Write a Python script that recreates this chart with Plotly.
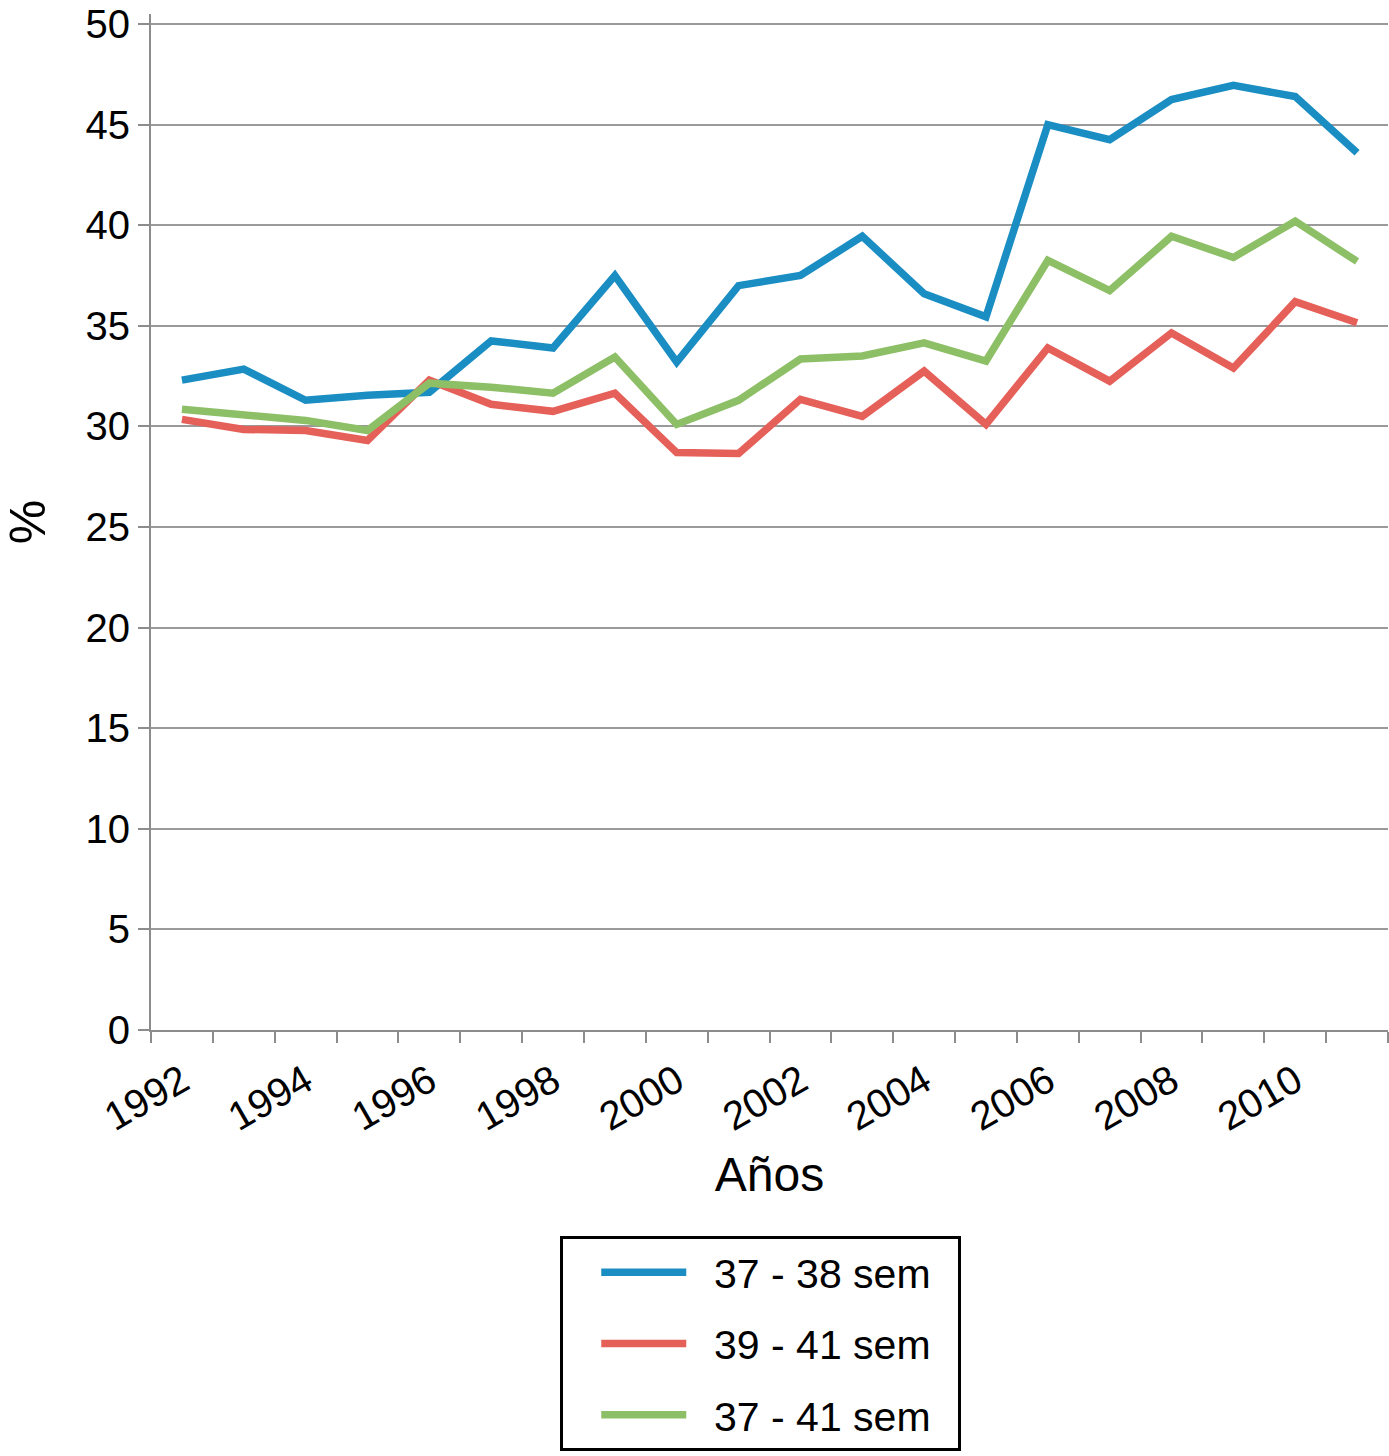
import plotly.graph_objects as go

years = list(range(1992, 2012))
s_37_38 = [32.3, 32.85, 31.3, 31.55, 31.7, 34.25, 33.9, 37.5, 33.2, 37.0,
           37.5, 39.45, 36.6, 35.45, 45.0, 44.25, 46.25, 46.95, 46.4, 43.6]
s_39_41 = [30.35, 29.85, 29.8, 29.3, 32.3, 31.1, 30.75, 31.65, 28.7, 28.65,
           31.35, 30.5, 32.75, 30.1, 33.9, 32.25, 34.65, 32.9, 36.2, 35.15]
s_37_41 = [30.85, 30.55, 30.3, 29.8, 32.15, 31.95, 31.65, 33.45, 30.1, 31.3,
           33.35, 33.5, 34.15, 33.25, 38.25, 36.75, 39.45, 38.4, 40.2, 38.2]
names = ["37 - 38 sem", "39 - 41 sem", "37 - 41 sem"]
colors = ["#1A8DC3", "#E6605A", "#8DBF66"]
label_years = list(range(1992, 2011, 2))
y_ticks = list(range(0, 51, 5))

font_family = "Liberation Sans, Arial, sans-serif"
pad = "\u00a0"

fig = go.Figure()
for i, (nm, vals, col) in enumerate(zip(names, [s_37_38, s_39_41, s_37_41], colors)):
    fig.add_trace(go.Scatter(x=years, y=vals, mode="lines",
                             name=pad * 2 + nm + pad * 2,
                             legendgroup=f"g{i}",
                             line=dict(color=col, width=7.5)))

fig.update_layout(
    width=1389, height=1456,
    margin=dict(l=151, r=1, t=14, b=426, autoexpand=False),
    paper_bgcolor="white", plot_bgcolor="white",
    font=dict(family=font_family, size=40, color="black"),
    showlegend=True,
    legend=dict(x=0.4931, xanchor="center", y=-0.2028, yanchor="top",
                bordercolor="black", borderwidth=3,
                font=dict(size=41), tracegroupgap=15, itemwidth=85,
                title=dict(text=pad * 2, side="left", font=dict(size=41)),
                bgcolor="white"),
    xaxis=dict(range=[1991.5, 2011.5], tickmode="array", tickvals=label_years,
               ticktext=[str(y) for y in label_years], tickangle=-30,
               ticks="", showgrid=False, zeroline=False, automargin=False,
               showline=True, linecolor="#8C8C8C", linewidth=2,
               ticklabelstandoff=10,
               minor=dict(tickmode="linear", tick0=1991.5, dtick=1,
                          ticks="outside", ticklen=11, tickwidth=2,
                          tickcolor="#8C8C8C", showgrid=False),
               title=dict(text="Años", font=dict(size=48), standoff=20),
               tickfont=dict(size=40)),
    yaxis=dict(range=[0, 50.5], tickmode="array", tickvals=y_ticks,
               ticks="outside", ticklen=11, automargin=False,
               ticklabeloverflow="allow",
               tickwidth=2, tickcolor="#8C8C8C", showline=True,
               linecolor="#8C8C8C", linewidth=2, showgrid=True,
               gridcolor="#9A9A9A", gridwidth=1.5, zeroline=False,
               title=dict(text="%", font=dict(size=50), standoff=34),
               tickfont=dict(size=40)),
)

fig.write_html("out.html", config={"displayModeBar": False},
               post_script="document.body.style.margin='0px';")
